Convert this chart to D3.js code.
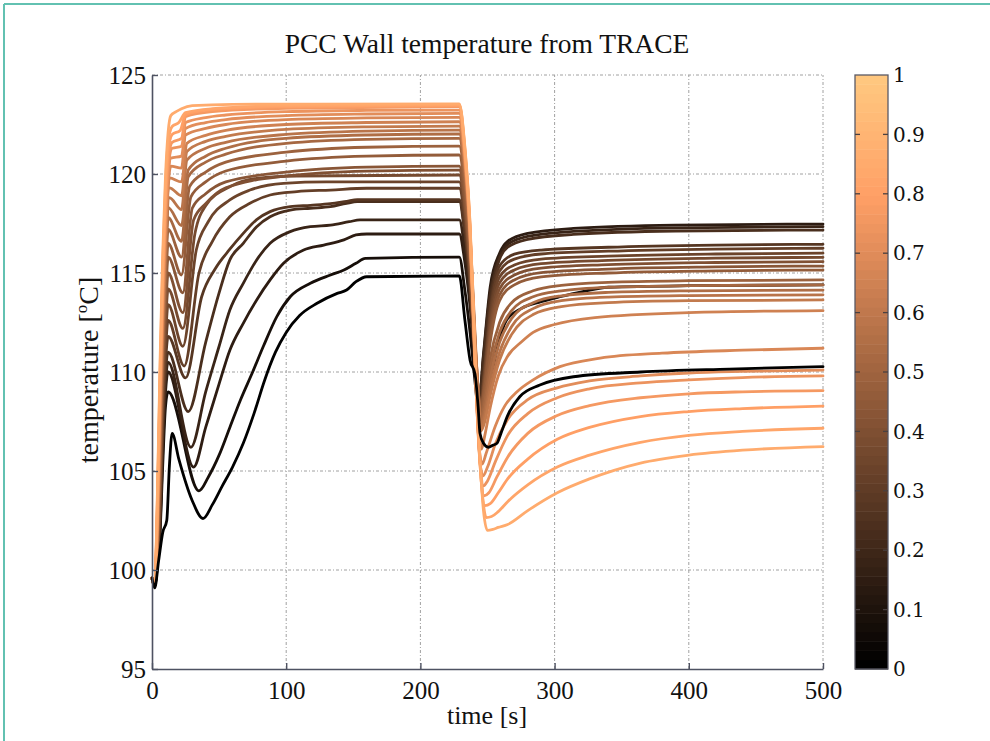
<!DOCTYPE html>
<html><head><meta charset="utf-8">
<script src="https://cdn.jsdelivr.net/npm/d3@7"></script>
<style>html,body{margin:0;padding:0;background:#fff}svg{display:block}</style>
</head><body>
<svg id="chart" width="990" height="741"></svg>
<script>
// ---------------- data ----------------
const chartTitle = "PCC Wall temperature from TRACE";
const xLabel = "time [s]";
const xTicks = [0, 100, 200, 300, 400, 500];
const yTicks = [95, 100, 105, 110, 115, 120, 125];
const cbTicks = [0, 0.1, 0.2, 0.3, 0.4, 0.5, 0.6, 0.7, 0.8, 0.9, 1];
const cbTickLabels = ["0", "0.1", "0.2", "0.3", "0.4", "0.5", "0.6", "0.7", "0.8", "0.9", "1"];

// colormap value of each curve (position along the wall, 0..1)
const curveOrder = ["X","W","V","U","T","S","R","Q","P","O","N","M","L","K","J","I","H","G","F","E","D","C","B","A","Y"];
const curveShade = {A:0.86,B:0.83,C:0.80,D:0.77,E:0.74,F:0.71,G:0.68,H:0.65,I:0.61,J:0.58,K:0.55,L:0.52,M:0.49,N:0.46,O:0.43,P:0.40,Q:0.37,R:0.34,S:0.31,T:0.27,U:0.23,V:0.18,W:0.14,X:0.07,Y:0.0};

// [time s, temperature °C]
const curveA = [[0,99.6],[2,99.2],[4,103.8],[6,110.5],[8,116],[10,119.8],[12,122.1],[14,122.95],[18,123.15],[22,123.3],[30,123.45],[60,123.52],[229,123.54],
  [233,121.5],[237,117.5],[241,110.5],[244.5,105.5],[247,103.0],[250,102.0],[254,102.05],[258,102.15],[265,102.3],[280,103.0],[302,103.9],[326,104.6],[364,105.4],[400,105.8],[440,106.05],[500,106.23]];
const curveB = [[0,99.6],[2,99.2],[4,103.5],[6,110],[8,115.5],[10,119.3],[12,121.6],[15,122.4],[20,122.6],[25,123.1],[45,123.3],[100,123.45],[229,123.5],
  [233,121.4],[237,117.4],[241,110.3],[244.5,105.3],[247,103.3],[249,102.65],[253,102.7],[258,102.95],[265,103.45],[280,104.3],[302,105.2],[326,105.8],[364,106.45],[400,106.8],[440,107.0],[500,107.16]];
const curveC = [[0,99.6],[2,99.2],[4,103.2],[6,109.5],[8,115],[10,118.8],[12,121.1],[15,122.0],[21,122.2],[25,123.0],[45,123.25],[100,123.4],[229,123.45],
  [233,121.3],[237,117.3],[241,110.2],[244.5,105.3],[248,103.25],[252,103.35],[258,103.9],[265,104.6],[280,105.6],[302,106.6],[326,107.2],[364,107.75],[400,108.0],[440,108.15],[500,108.28]];
const curveD = [[0,99.6],[2,99.2],[4,103],[6,109.2],[8,114.6],[10,118.3],[12,120.6],[15,121.6],[22,121.8],[25,122.9],[45,123.15],[100,123.32],[229,123.4],
  [233,121.2],[237,117.2],[241,110.1],[244.5,105.4],[247.5,103.75],[251,103.9],[257,104.7],[265,105.7],[280,106.9],[302,107.8],[326,108.3],[364,108.7],[400,108.9],[440,109.0],[500,109.06]];
const curveE = [[0,99.6],[2,99.2],[4,102.8],[6,108.8],[8,114.2],[10,117.9],[12,120.2],[15,121.3],[22,121.4],[25,122.6],[40,122.85],[55,122.98],[100,123.15],[160,123.21],[229,123.23],
  [233,121.1],[237,117.1],[241,110.0],[244.5,105.5],[247,104.25],[250,104.5],[256,105.5],[265,106.8],[280,107.9],[302,108.7],[326,109.15],[364,109.45],[400,109.6],[440,109.72],[500,109.8]];
const curveF = [[0,99.6],[2,99.2],[4,102.6],[6,108.4],[8,113.8],[10,117.5],[12,119.8],[14,120.8],[22,120.9],[25,122.3],[40,122.6],[55,122.75],[100,122.95],[160,123.03],[229,123.06],
  [233,121.0],[237,117.0],[241,110.0],[244.2,105.6],[246.5,104.75],[250,105.2],[256,106.4],[265,107.6],[280,108.6],[302,109.2],[326,109.55],[364,109.8],[400,109.95],[440,110.03],[500,110.1]];
const curveG = [[0,99.6],[2,99.2],[4,102.4],[6,108],[8,113.4],[10,117.1],[12,119.4],[14,120.4],[22,120.3],[25,121.97],[40,122.3],[55,122.5],[100,122.75],[160,122.83],[229,122.86],
  [233,120.8],[237,116.9],[241,109.9],[244,106.0],[246,105.35],[249,105.9],[256,107.3],[263,108.3],[272,109.0],[284,109.6],[304,110.27],[334,110.7],[380,110.95],[440,111.1],[500,111.2]];
const curveH = [[0,99.6],[2,99.2],[4,102.2],[6,107.6],[8,113],[10,116.7],[13,119.8],[22,119.6],[26,121.55],[40,121.95],[55,122.2],[100,122.5],[160,122.6],[229,122.64],
  [233,120.7],[237,116.9],[241,110.5],[243.5,107.3],[245.5,106.1],[248,106.8],[252,108.2],[258,109.8],[265,110.8],[275,111.5],[284,112.0],[300,112.4],[330,112.75],[400,113.0],[500,113.1]];
const curveI = [[0,99.6],[2,99.2],[4,102],[6,107.2],[8,112.6],[10,116.3],[13,119.3],[22,118.9],[26,121.13],[40,121.65],[55,121.9],[100,122.25],[160,122.38],[229,122.42],
  [233,120.6],[237,117.0],[241,111.5],[243.5,108.3],[245,107.0],[248,107.5],[252,108.8],[259,110.6],[268,111.9],[284,112.9],[305,113.3],[340,113.5],[400,113.6],[500,113.64]];
const curveJ = [[0,99.6],[2,99.2],[4,101.8],[6,106.8],[8,112.2],[10,115.9],[13,118.8],[22,118.2],[26,120.7],[40,121.3],[55,121.6],[100,122.0],[160,122.17],[229,122.22],
  [233,120.4],[237,116.8],[241,111.3],[243.5,108.5],[245,107.2],[248,107.8],[252,109.2],[259,111.0],[268,112.3],[284,113.2],[305,113.6],[340,113.78],[400,113.86],[500,113.9]];
const curveK = [[0,99.6],[2,99.2],[4,101.6],[6,106.4],[8,111.8],[10,115.5],[12,118.3],[22,117.4],[27,120.2],[40,120.9],[55,121.3],[100,121.8],[160,121.97],[229,122.02],
  [233,120.2],[237,116.6],[241,111.2],[243.5,108.6],[245,107.4],[248,108.1],[252,109.7],[259,111.5],[268,112.7],[284,113.5],[305,113.85],[340,114.02],[400,114.1],[500,114.14]];
const curveL = [[0,99.6],[2,99.2],[4,101.4],[6,106],[8,111.4],[10,115.1],[12,117.8],[22,116.6],[27,119.86],[40,120.6],[55,121.0],[100,121.55],[160,121.75],[229,121.8],
  [233,120.0],[237,116.4],[241,111.1],[243.5,108.7],[245,107.6],[248,108.5],[252,110.2],[259,112.0],[268,113.1],[284,113.8],[305,114.1],[340,114.28],[400,114.36],[500,114.4]];
const curveM = [[0,99.6],[2,99.2],[4,101.3],[6,105.6],[8,111],[10,114.6],[12,117.2],[22,115.8],[28,119.36],[40,120.1],[55,120.6],[100,121.1],[160,121.35],[229,121.41],
  [233,119.6],[237,116.0],[241,110.9],[243.5,108.8],[245,107.8],[248,108.9],[252,110.7],[259,112.5],[268,113.5],[284,114.1],[305,114.38],[340,114.53],[400,114.61],[500,114.65]];
const curveN = [[0,99.6],[2,99.2],[4,101.2],[6,105.2],[8,110.5],[10,114],[12,116.5],[22,114.9],[29,118.85],[40,119.6],[55,120.15],[100,120.65],[160,120.9],[229,120.96],
  [233,119.2],[237,115.8],[241,110.8],[244.5,108.0],[248,109.3],[252,111.5],[259,113.6],[270,114.4],[290,114.8],[340,115.0],[420,115.11],[500,115.15]];
const curveO = [[0,99.6],[2,99.2],[4,101.1],[6,104.8],[8,110],[10,113.4],[12,115.8],[23,114.0],[30,118.27],[40,119.0],[55,119.6],[100,120.1],[160,120.35],[229,120.4],
  [233,118.7],[237,115.4],[241,110.7],[244.5,107.95],[248,109.5],[252,111.8],[259,113.9],[270,114.65],[290,115.02],[340,115.2],[420,115.31],[500,115.35]];
const curveP = [[0,99.6],[2,99.2],[4,101],[6,104.4],[8,109.5],[10,112.8],[12,115.0],[23,113.0],[31,117.68],[40,118.5],[55,119.3],[100,119.9],[160,120.15],[229,120.2],
  [233,118.5],[237,115.2],[241,110.6],[244.5,107.9],[248,109.7],[252,112.1],[259,114.2],[270,114.9],[290,115.25],[340,115.42],[420,115.53],[500,115.57]];
const curveQ = [[0,99.6],[2,99.2],[4,100.9],[6,104],[8,109],[10,112.2],[12,114.2],[23,112.2],[32,117.0],[40,118.4],[58,119.36],[78,119.78],[108,119.9],[229,119.95],
  [233,118.3],[237,115.0],[241,110.5],[244.5,107.9],[248,109.9],[252,112.4],[259,114.5],[270,115.15],[290,115.47],[340,115.64],[420,115.75],[500,115.79]];
const curveR = [[0,99.6],[2,99.2],[4,100.8],[6,103.6],[8,108.5],[10,111.6],[12,113.4],[23,111.3],[33,116.16],[42,117.6],[58,118.69],[73,119.19],[98,119.53],[130,119.6],[229,119.6],
  [233,118.0],[237,114.8],[241,110.4],[244.3,108.0],[248,110.1],[252,112.7],[259,114.8],[270,115.4],[290,115.7],[340,115.85],[420,115.96],[500,116.0]];
const curveS = [[0,99.6],[2,99.2],[4,100.7],[6,103.2],[8,108],[10,111],[12,112.6],[24,110.3],[35,115.0],[45,116.6],[58,117.84],[73,118.52],[88,118.94],[108,119.11],[133,119.19],[160,119.28],[229,119.28],
  [233,117.7],[237,114.6],[241,110.3],[244.2,108.1],[248,110.3],[252,113.0],[259,115.1],[270,115.7],[290,115.96],[340,116.1],[420,116.21],[500,116.25]];
const curveT = [[0,99.6],[2,99.2],[4,100.6],[6,102.9],[8,107.5],[10,110.4],[12,111.8],[25,109.7],[37,113.8],[47,115.2],[58,116.2],[68,117.0],[78,117.7],[88,118.1],[103,118.35],[118,118.42],[133,118.5],[145,118.62],[153,118.7],[229,118.7],
  [233,117.2],[237,114.3],[241,110.2],[244,108.2],[248,110.5],[252,113.3],[259,115.35],[270,115.95],[290,116.16],[340,116.3],[420,116.41],[500,116.45]];
const curveU = [[0,99.6],[2,99.2],[4,100.5],[6,102.6],[8,107],[10,109.9],[12,111.0],[27,108.0],[40,111.5],[50,114.0],[58,115.66],[68,116.5],[78,117.34],[88,117.84],[103,118.18],[118,118.27],[133,118.35],[145,118.52],[153,118.6],[229,118.6],
  [233,117.0],[237,114.4],[241,110.5],[244,108.6],[247,110.6],[252,113.8],[259,115.7],[265,116.3],[280,116.7],[314,116.95],[390,117.12],[500,117.17]];
const curveV = [[0,99.6],[2,99.2],[4,100.4],[6,102.3],[8,106.5],[10,109.4],[12,110.5],[29,106.2],[40,109.0],[50,111.3],[58,113.13],[68,114.48],[78,115.66],[88,116.5],[103,117.09],[118,117.34],[133,117.42],[147,117.59],[155,117.68],[229,117.68],
  [233,116.2],[237,113.8],[241,110.3],[244,108.7],[247,110.8],[252,114.0],[259,115.85],[265,116.45],[280,116.85],[314,117.1],[390,117.28],[500,117.34]];
const curveW = [[0,99.6],[2,99.2],[4,100.3],[6,102.1],[8,106],[10,108.9],[12,110.0],[31,105.2],[40,107.2],[50,109.4],[58,111.1],[68,112.46],[78,113.64],[88,114.65],[98,115.49],[113,116.16],[128,116.41],[143,116.67],[152,116.92],[160,116.97],[229,116.97],
  [233,115.6],[237,113.3],[241,110.1],[244,108.8],[247,110.9],[252,114.3],[259,116.0],[265,116.6],[280,117.0],[314,117.25],[390,117.42],[500,117.47]];
const curveX = [[0,99.6],[2,99.2],[4,100.2],[6,101.9],[8,105.3],[10,108.2],[12,109.0],[35,104.0],[42,104.7],[50,105.8],[58,107.2],[66,108.6],[75,110.0],[83,111.3],[93,112.8],[103,113.8],[118,114.48],[133,114.9],[143,115.15],[152,115.49],[159,115.74],[229,115.8],
  [233,114.2],[237,112.0],[241,109.3],[244,107.6],[247,107.8],[252,109.5],[258,111.4],[264,112.6],[275,113.2],[290,113.55],[304,113.8],[320,114.05],[340,114.28],[400,114.36],[500,114.4]];
const curveY = [[0,99.6],[2,99.1],[5,100.5],[8,101.9],[11,102.5],[13,105.3],[15,106.9],[20,105.6],[30,103.5],[38,102.6],[45,103.3],[52,104.2],[60,105.2],[68,106.4],[76,107.9],[84,109.6],[92,111.0],[100,112.0],[110,112.85],[123,113.47],[138,113.97],[145,114.14],[152,114.56],[160,114.81],[229,114.85],
  [233.2,112.6],[237,110.6],[240.7,109.9],[243,108.25],[244.4,106.9],[247,106.4],[250.6,106.2],[254,106.3],[257,106.4],[260,106.9],[265,107.8],[274,108.75],[289,109.34],[314,109.76],[364,110.0],[430,110.15],[500,110.27]];

const curvePoints = {A:curveA,B:curveB,C:curveC,D:curveD,E:curveE,F:curveF,G:curveG,H:curveH,I:curveI,J:curveJ,K:curveK,L:curveL,M:curveM,
  N:curveN,O:curveO,P:curveP,Q:curveQ,R:curveR,S:curveS,T:curveT,U:curveU,V:curveV,W:curveW,X:curveX,Y:curveY};

// ---------------- drawing ----------------
const svg = d3.select("#chart");
const serif = "'Liberation Serif','Times New Roman',serif";

// page frame (teal rule)
svg.append("line").attr("x1",4).attr("y1",4).attr("x2",990).attr("y2",4).attr("stroke","#62c1b1").attr("stroke-width",2);
svg.append("line").attr("x1",4).attr("y1",4).attr("x2",4).attr("y2",741).attr("stroke","#62c1b1").attr("stroke-width",2);

const x = d3.scaleLinear().domain([0, 500]).range([152, 823]);
const y = d3.scaleLinear().domain([95, 125]).range([669, 75]);

// MATLAB "copper" colormap
function copper(v) {
  return d3.rgb(Math.min(1, 1.25 * v) * 255, 0.7812 * v * 255, 0.4975 * v * 255).toString();
}

// grid
const grid = svg.append("g");
grid.selectAll("line.gx").data(xTicks.filter(d => d > 0)).join("line")
  .attr("x1", d => x(d)).attr("x2", d => x(d)).attr("y1", y(95)).attr("y2", y(125))
  .attr("stroke", "#a0a0a0").attr("stroke-width", 1).attr("stroke-dasharray", "3,2,1,2");
grid.selectAll("line.gy").data(yTicks.filter(d => d > 95)).join("line")
  .attr("x1", x(0)).attr("x2", x(500)).attr("y1", d => y(d)).attr("y2", d => y(d))
  .attr("stroke", "#a0a0a0").attr("stroke-width", 1).attr("stroke-dasharray", "3,2,1,2");

// curves
const line = d3.line().x(d => x(d[0])).y(d => y(d[1])).curve(d3.curveMonotoneX);
const gCurves = svg.append("g");
curveOrder.forEach(k => {
  gCurves.append("path").datum(curvePoints[k]).attr("d", line)
    .attr("fill", "none").attr("stroke", copper(curveShade[k]))
    .attr("stroke-width", 2.8).attr("stroke-linejoin", "round").attr("stroke-linecap", "round");
});

// axes
const axisColor = "#4e5262";
const xAxis = svg.append("g").attr("transform", `translate(0,${y(95)})`)
  .call(d3.axisBottom(x).tickValues(xTicks).tickFormat(d3.format("d")).tickSizeInner(-6).tickSizeOuter(0).tickPadding(12));
const yAxis = svg.append("g").attr("transform", `translate(${x(0)},0)`)
  .call(d3.axisLeft(y).tickValues(yTicks).tickFormat(d3.format("d")).tickSizeInner(-6).tickSizeOuter(0).tickPadding(6));
[xAxis, yAxis].forEach(a => {
  a.select(".domain").attr("stroke", axisColor).attr("stroke-width", 1.6);
  a.selectAll(".tick line").attr("stroke", axisColor).attr("stroke-width", 1.4);
  a.selectAll(".tick text").attr("font-family", serif).attr("font-size", 25).attr("fill", "#111");
});

// titles
svg.append("text").attr("x", 487).attr("y", 53).attr("text-anchor", "middle")
  .attr("font-family", serif).attr("font-size", 27.5).attr("fill", "#111").text(chartTitle);
svg.append("text").attr("x", 487).attr("y", 724).attr("text-anchor", "middle")
  .attr("font-family", serif).attr("font-size", 26).attr("fill", "#111").text(xLabel);
const yl = svg.append("text").attr("transform", "translate(98,370) rotate(-90)").attr("text-anchor", "middle")
  .attr("font-family", serif).attr("font-size", 28).attr("fill", "#111");
yl.append("tspan").text("temperature [");
yl.append("tspan").attr("font-size", 17).attr("dy", -11).text("o");
yl.append("tspan").attr("dy", 11).text("C]");

// colorbar
const cb = d3.scaleLinear().domain([0, 1]).range([669, 75]);
const cbX0 = 855, cbX1 = 888;
const steps = d3.range(64);
svg.append("g").selectAll("rect").data(steps).join("rect")
  .attr("x", cbX0).attr("width", cbX1 - cbX0)
  .attr("y", i => cb((i + 1) / 64)).attr("height", i => cb(i / 64) - cb((i + 1) / 64) + 0.5)
  .attr("fill", i => copper(i / 63));
svg.append("rect").attr("x", cbX0).attr("y", cb(1)).attr("width", cbX1 - cbX0).attr("height", cb(0) - cb(1))
  .attr("fill", "none").attr("stroke", "#5a5a66").attr("stroke-width", 1.3);
const cbT = svg.append("g");
cbT.selectAll("line.l").data(cbTicks.slice(1, -1)).join("line")
  .attr("x1", cbX0).attr("x2", cbX0 + 5).attr("y1", d => cb(d)).attr("y2", d => cb(d))
  .attr("stroke", "#4a4040").attr("stroke-width", 1.3);
cbT.selectAll("line.r").data(cbTicks.slice(1, -1)).join("line")
  .attr("x1", cbX1 - 5).attr("x2", cbX1).attr("y1", d => cb(d)).attr("y2", d => cb(d))
  .attr("stroke", "#4a4040").attr("stroke-width", 1.3);
cbT.selectAll("text").data(cbTicks).join("text")
  .attr("x", cbX1 + 5).attr("y", d => cb(d)).attr("dy", "0.36em")
  .attr("font-family", "'DejaVu Serif',serif").attr("font-size", 20).attr("fill", "#111")
  .text((d, i) => cbTickLabels[i]);
</script>
</body></html>
